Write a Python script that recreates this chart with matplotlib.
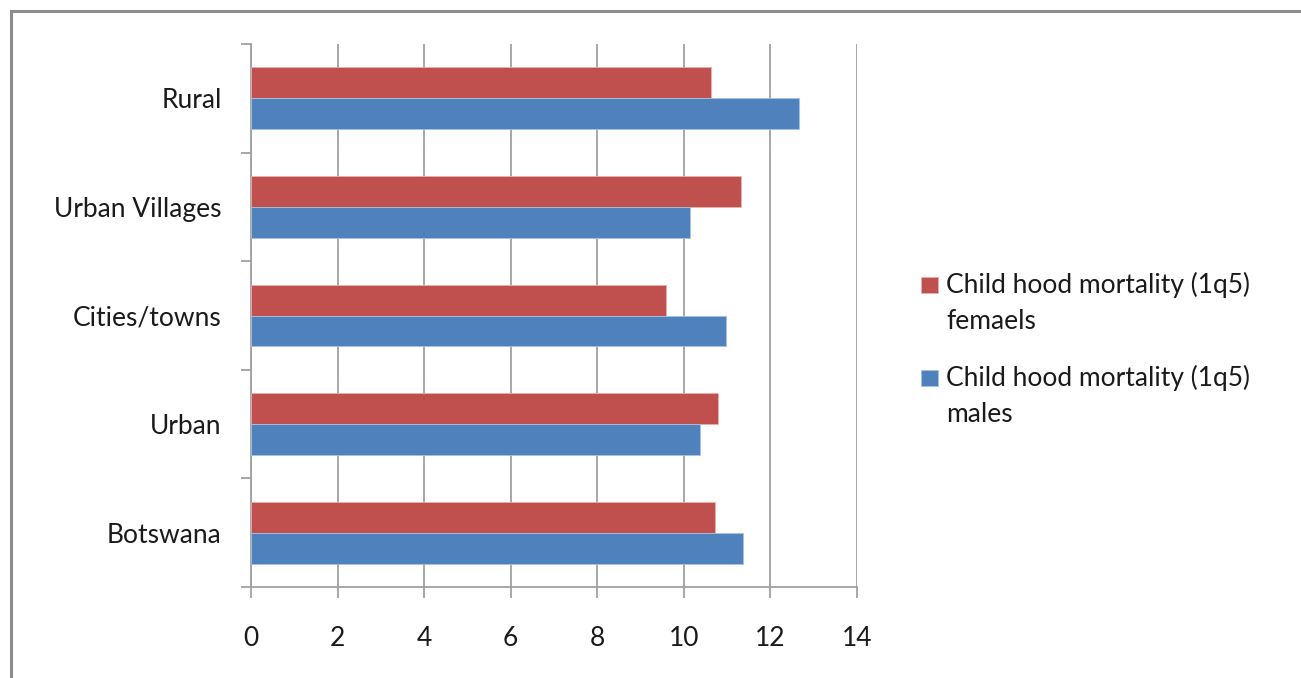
import matplotlib.pyplot as plt
from matplotlib.lines import Line2D
from matplotlib.patches import Rectangle

# data, bottom to top as drawn
categories = ["Botswana", "Urban", "Cities/towns", "Urban Villages", "Rural"]
females = [10.72, 10.79, 9.58, 11.31, 10.62]
males = [11.37, 10.38, 10.97, 10.15, 12.66]
x_ticks = [0, 2, 4, 6, 8, 10, 12, 14]
female_label = "Child hood mortality (1q5)\nfemaels"
male_label = "Child hood mortality (1q5)\nmales"

red = "#C0504D"
blue = "#4F81BD"
grid_gray = "#A0A0A0"
text_color = "#1A1A1A"
fs = 19

plt.rcParams["font.family"] = ["Lato", "DejaVu Sans"]

W, H = 1301, 678
fig = plt.figure(figsize=(W / 100, H / 100), dpi=100)

# outer chart frame (only top/left edges visible in the crop)
fig.add_artist(Line2D([11 / W, 11 / W], [0, 1 - 11 / H], transform=fig.transFigure,
                      color="#8C8C8C", linewidth=2.2))
fig.add_artist(Line2D([11 / W, 1], [1 - 11 / H, 1 - 11 / H], transform=fig.transFigure,
                      color="#8C8C8C", linewidth=2.2))

ax = fig.add_axes([251 / W, 1 - 587 / H, (857 - 251) / W, (587 - 44) / H])

pos = list(range(len(categories)))
bar_h = 0.285
ax.barh([p + bar_h / 2 for p in pos], females, height=bar_h, color=red,
        edgecolor="#E8B0AE", linewidth=0.6, zorder=3)
ax.barh([p - bar_h / 2 for p in pos], males, height=bar_h, color=blue,
        edgecolor="#A9C1E0", linewidth=0.6, zorder=3)

ax.set_xlim(0, 14)
ax.set_ylim(-0.5, len(categories) - 0.5)
ax.set_xticks(x_ticks)
ax.set_xticklabels([str(t) for t in x_ticks])
ax.set_yticks(pos)
ax.set_yticklabels(categories)
ax.set_yticks([p - 0.5 for p in range(len(categories) + 1)], minor=True)

ax.grid(True, axis="x", color=grid_gray, linewidth=1.3, zorder=0)
for side in ("top", "right"):
    ax.spines[side].set_visible(False)
for side in ("left", "bottom"):
    ax.spines[side].set_color(grid_gray)
    ax.spines[side].set_linewidth(1.3)

ax.tick_params(axis="y", which="major", length=0, pad=21, labelsize=fs, labelcolor=text_color)
ax.tick_params(axis="y", which="minor", length=7, width=1.3, color=grid_gray, direction="out")
ax.tick_params(axis="x", which="major", length=8, width=1.3, color=grid_gray,
               pad=20, labelsize=fs, labelcolor=text_color)

# legend drawn by hand so the swatch sits on the first text line (Excel style)
legend_items = [(female_label, red, "#E8B0AE"), (male_label, blue, "#A9C1E0")]
for i, (label, face, edge) in enumerate(legend_items):
    y_px = 285 + i * 93
    fig.add_artist(Rectangle((921 / W, 1 - (y_px + 8) / H), 17 / W, 16 / H,
                             transform=fig.transFigure, facecolor=face, edgecolor=edge,
                             linewidth=0.6))
    for k, line in enumerate(label.split("\n")):
        fig.text(946 / W, 1 - (y_px + k * 37) / H, line, fontsize=fs, color=text_color,
                 ha="left", va="center")

fig.savefig("out.png", dpi=100)
